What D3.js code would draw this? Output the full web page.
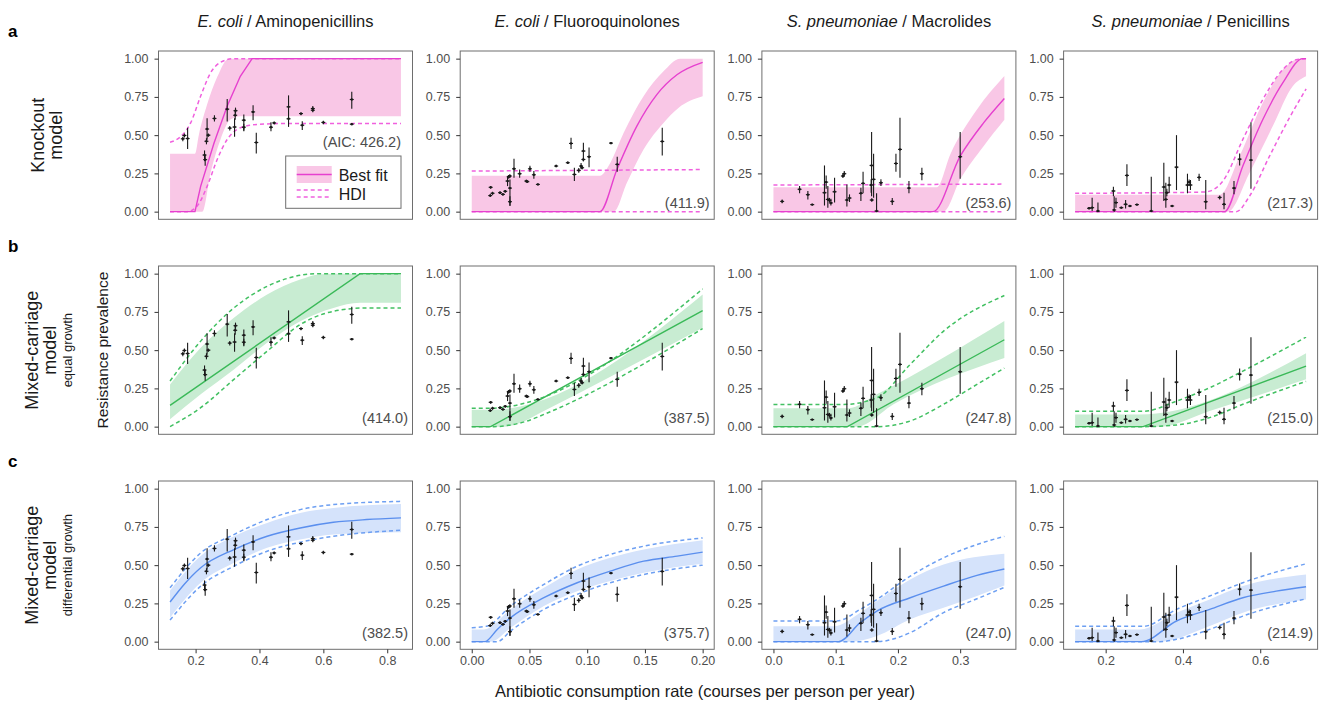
<!DOCTYPE html>
<html>
<head>
<meta charset="utf-8">
<script src="https://cdnjs.cloudflare.com/ajax/libs/d3/7.8.5/d3.min.js"></script>
<style>
body { margin: 0; background: #fff; }
text { font-family: "Liberation Sans", Arial, Helvetica, sans-serif; }
</style>
</head>
<body>
<script>

// ---- data ----

var colSpecies = ["E. coli", "E. coli", "S. pneumoniae", "S. pneumoniae"];
var colDrugs = ["Aminopenicillins", "Fluoroquinolones", "Macrolides", "Penicillins"];
var rowLetters = ["a", "b", "c"];
var rowTitles = [["Knockout", "model"], ["Mixed-carriage", "model"], ["Mixed-carriage", "model"]];
var rowSubtitles = ["", "equal growth", "differential growth"];

var aicLabels = [
	["(AIC: 426.2)", "(411.9)", "(253.6)", "(217.3)"],
	["(414.0)", "(387.5)", "(247.8)", "(215.0)"],
	["(382.5)", "(375.7)", "(247.0)", "(214.9)"]
];

var xDomains = [[0.12, 0.843], [0, 0.2], [0, 0.371], [0.121, 0.7186]];
var xTicks = [[0.2, 0.4, 0.6, 0.8], [0, 0.05, 0.1, 0.15, 0.2], [0, 0.1, 0.2, 0.3], [0.2, 0.4, 0.6]];
var xTickFormats = [".1f", ".2f", ".1f", ".1f"];
var yTicks = [0, 0.25, 0.5, 0.75, 1];

// observations: [consumption, prevalence, lower, upper]
var obsAmp = [
	[0.160,0.476,0.46,0.49],[0.165,0.498,0.485,0.51],[0.175,0.478,0.41,0.548],
	[0.228,0.37,0.33,0.40],[0.230,0.34,0.30,0.37],[0.234,0.46,0.44,0.48],
	[0.236,0.54,0.47,0.61],[0.240,0.50,0.49,0.51],[0.259,0.609,0.59,0.63],
	[0.299,0.67,0.59,0.737],[0.307,0.546,0.53,0.56],[0.322,0.553,0.49,0.61],
	[0.324,0.63,0.60,0.66],[0.325,0.66,0.64,0.68],[0.351,0.598,0.526,0.635],
	[0.351,0.552,0.53,0.575],[0.380,0.652,0.598,0.696],[0.390,0.452,0.38,0.515],
	[0.436,0.552,0.526,0.585],[0.446,0.58,0.57,0.59],[0.491,0.685,0.60,0.76],
	[0.491,0.607,0.554,0.62],[0.530,0.641,0.63,0.65],[0.534,0.565,0.533,0.591],
	[0.567,0.674,0.66,0.69],[0.567,0.663,0.65,0.675],[0.600,0.583,0.572,0.594],
	[0.689,0.733,0.672,0.783],[0.689,0.572,0.565,0.58]
];
var obsFq = [
	[0.0164,0.159,0.15,0.168],[0.016,0.105,0.095,0.115],[0.018,0.12,0.11,0.13],
	[0.0245,0.124,0.115,0.133],[0.027,0.113,0.104,0.122],[0.029,0.133,0.124,0.142],
	[0.031,0.2,0.167,0.233],[0.032,0.228,0.215,0.24],[0.033,0.233,0.22,0.245],
	[0.0331,0.154,0.037,0.21],[0.0331,0.065,0.04,0.10],[0.0366,0.28,0.222,0.345],
	[0.0415,0.248,0.222,0.276],[0.0473,0.2,0.192,0.208],[0.0481,0.196,0.188,0.204],
	[0.0504,0.28,0.26,0.30],[0.0538,0.241,0.215,0.265],[0.0573,0.178,0.172,0.184],
	[0.0731,0.298,0.29,0.306],[0.0832,0.32,0.312,0.328],[0.086,0.446,0.41,0.483],
	[0.0889,0.243,0.2,0.287],[0.0927,0.27,0.255,0.285],[0.0947,0.298,0.28,0.318],
	[0.0956,0.287,0.275,0.3],[0.0967,0.396,0.33,0.45],[0.0967,0.341,0.33,0.352],
	[0.1016,0.359,0.29,0.42],[0.1206,0.448,0.44,0.456],[0.126,0.309,0.26,0.359],
	[0.165,0.459,0.367,0.548]
];
var obsMac = [
	[0.014,0.067,0.055,0.08],[0.042,0.146,0.12,0.167],[0.0553,0.111,0.08,0.135],
	[0.0623,0.046,0.04,0.052],[0.082,0.124,0.04,0.302],[0.0847,0.193,0.15,0.237],
	[0.0874,0.08,0.026,0.167],[0.090,0.074,0.06,0.09],[0.0923,0.057,0.04,0.085],
	[0.0982,0.13,0.06,0.222],[0.1116,0.233,0.22,0.25],[0.1138,0.248,0.23,0.265],
	[0.118,0.076,0.033,0.178],[0.1222,0.089,0.063,0.113],[0.1405,0.12,0.07,0.157],
	[0.144,0.185,0.12,0.26],[0.157,0.174,0.124,0.211],[0.1577,0.302,0.1,0.52],
	[0.158,0.076,0.065,0.087],[0.1609,0.211,0.091,0.378],[0.1657,0.004,0,0.12],
	[0.1727,0.189,0.167,0.211],[0.1909,0.067,0.043,0.09],[0.1968,0.315,0.26,0.378],
	[0.2033,0.407,0.222,0.613],[0.2177,0.154,0.12,0.2],[0.2385,0.248,0.206,0.287],
	[0.3,0.359,0.215,0.52]
];
var obsPen = [
	[0.157,0.022,0.015,0.03],[0.165,0.026,0.004,0.091],[0.180,0.004,0,0.059],
	[0.220,0.135,0.1,0.163],[0.222,0.011,0,0.1],[0.2267,0.059,0.026,0.091],
	[0.2405,0.026,0.02,0.032],[0.2516,0.048,0.02,0.076],[0.255,0.237,0.167,0.309],
	[0.2628,0.037,0.03,0.044],[0.2809,0.046,0.04,0.052],[0.318,0.004,0,0.228],
	[0.3505,0.161,0.07,0.32],[0.3557,0.08,0.026,0.189],[0.3583,0.124,0.1,0.15],
	[0.3643,0.174,0.124,0.228],[0.372,0.037,0.03,0.044],[0.3833,0.291,0.141,0.5],
	[0.4117,0.174,0.12,0.248],[0.416,0.193,0.175,0.21],[0.4194,0.174,0.141,0.207],
	[0.4418,0.224,0.2,0.248],[0.459,0.065,0.015,0.207],[0.4951,0.093,0.08,0.105],
	[0.5063,0.048,0.015,0.124],[0.5321,0.154,0.113,0.2],[0.5467,0.343,0.302,0.38],
	[0.576,0.337,0.15,0.585]
];

// model curves, one list per column: [consumption, prevalence]
var knockoutFit = [
	[[0.12,0],[0.198,0],[0.216,0.167],[0.258,0.45],[0.299,0.69],[0.34,0.885],[0.377,1],[0.843,1]],
	[[0,0],[0.111,0],[0.1258,0.276],[0.143,0.559],[0.1603,0.765],[0.178,0.896],[0.2,0.976]],
	[[0,0],[0.2563,0],[0.3001,0.363],[0.3376,0.58],[0.371,0.74]],
	[[0.121,0],[0.5079,0],[0.555,0.298],[0.6067,0.602],[0.6583,0.841],[0.7101,1],[0.7186,1]]
];
var knockoutBandHi = [
	[[0.12,0.378],[0.198,0.378],[0.21,0.5],[0.236,0.7],[0.2676,0.88],[0.304,1],[0.843,1]],
	[[0,0.235],[0.111,0.235],[0.1201,0.32],[0.1316,0.515],[0.1488,0.754],[0.1661,0.917],[0.1805,1],[0.2,1]],
	[[0,0.16],[0.2627,0.16],[0.2841,0.374],[0.327,0.667],[0.371,0.886]],
	[[0.121,0.11],[0.495,0.11],[0.5467,0.363],[0.6067,0.711],[0.6669,0.95],[0.7013,1],[0.7186,1]]
];
var knockoutBandLo = [
	[[0.12,0],[0.221,0],[0.2468,0.254],[0.278,0.472],[0.309,0.602],[0.34,0.624],[0.843,0.624]],
	[[0,0],[0.123,0],[0.1344,0.189],[0.1488,0.407],[0.1661,0.58],[0.179,0.678],[0.2,0.754]],
	[[0,0],[0.2734,0],[0.3001,0.211],[0.3376,0.428],[0.371,0.6]],
	[[0.121,0],[0.5165,0],[0.5725,0.254],[0.6326,0.559],[0.6841,0.82],[0.7186,0.885]]
];
var knockoutHdiHi = [
	[[0.12,0.454],[0.153,0.49],[0.1845,0.58],[0.2156,0.754],[0.2468,0.907],[0.278,0.976],[0.3196,1],[0.843,1]],
	[[0,0.265],[0.2,0.275]],
	[[0,0.174],[0.371,0.18]],
	[[0.121,0.12],[0.452,0.128],[0.4691,0.134],[0.5035,0.2],[0.555,0.472],[0.6067,0.733],[0.6583,0.928],[0.6927,0.993],[0.7186,1]]
];
var knockoutHdiLo = [
	[[0.12,0],[0.174,0],[0.205,0.037],[0.2364,0.167],[0.2676,0.341],[0.299,0.472],[0.34,0.548],[0.3924,0.57],[0.486,0.576],[0.843,0.576]],
	[[0,0],[0.2,0]],
	[[0,0],[0.371,0]],
	[[0.121,0],[0.538,0],[0.5725,0.102],[0.6241,0.363],[0.6755,0.613],[0.7186,0.802]]
];

var equalFit = [
	[[0.12,0.139],[0.715,1],[0.843,1]],
	[[0,0],[0.0164,0],[0.2,0.759]],
	[[0,0],[0.119,0],[0.371,0.568]],
	[[0.121,0],[0.297,0],[0.7186,0.396]]
];
var equalBandHi = [
	[[0.12,0.276],[0.216,0.515],[0.32,0.711],[0.424,0.863],[0.5275,0.961],[0.58,0.993],[0.632,1],[0.843,1]],
	[[0,0.11],[0.0164,0.11],[0.2,0.863]],
	[[0,0.12],[0.1206,0.12],[0.1662,0.211],[0.371,0.69]],
	[[0.121,0.08],[0.2885,0.08],[0.7186,0.48]]
];
var equalBandLo = [
	[[0.12,0.048],[0.216,0.211],[0.32,0.374],[0.424,0.548],[0.5275,0.689],[0.6316,0.776],[0.715,0.809],[0.843,0.809]],
	[[0,0],[0.0279,0],[0.0423,0.026],[0.0625,0.102],[0.2,0.646]],
	[[0,0],[0.134,0],[0.193,0.146],[0.371,0.448]],
	[[0.121,0],[0.3401,0],[0.4691,0.102],[0.7186,0.309]]
];
var equalHdiHi = [
	[[0.12,0.298],[0.216,0.559],[0.32,0.776],[0.424,0.917],[0.5275,0.989],[0.58,1],[0.843,1]],
	[[0,0.12],[0.0135,0.12],[0.2,0.9]],
	[[0,0.145],[0.1126,0.145],[0.1662,0.189],[0.2198,0.407],[0.2733,0.624],[0.371,0.857]],
	[[0.121,0.1],[0.297,0.1],[0.3833,0.167],[0.4691,0.254],[0.555,0.363],[0.7186,0.585]]
];
var equalHdiLo = [
	[[0.12,0],[0.216,0.124],[0.32,0.309],[0.424,0.493],[0.5275,0.667],[0.6316,0.754],[0.7355,0.776],[0.843,0.776]],
	[[0,0],[0.0193,0],[0.0337,0.011],[0.0481,0.037],[0.0625,0.08],[0.2,0.641]],
	[[0,0],[0.1662,0],[0.2198,0.037],[0.2733,0.146],[0.327,0.276],[0.371,0.383]],
	[[0.121,0],[0.297,0],[0.3833,0.011],[0.4691,0.059],[0.555,0.146],[0.7186,0.296]]
];

var diffFit = [
	[[0.12,0.259],[0.164,0.374],[0.216,0.483],[0.32,0.602],[0.424,0.689],[0.5275,0.743],[0.6316,0.78],[0.7355,0.798],[0.843,0.809]],
	[[0,0],[0.0112,0],[0.0221,0.08],[0.0337,0.157],[0.0625,0.287],[0.0913,0.385],[0.12,0.461],[0.149,0.526],[0.178,0.559],[0.2,0.585]],
	[[0,0],[0.1046,0],[0.1394,0.124],[0.1662,0.2],[0.2198,0.287],[0.2733,0.363],[0.327,0.433],[0.371,0.475]],
	[[0.121,0],[0.2928,0],[0.3833,0.135],[0.4691,0.211],[0.555,0.287],[0.6413,0.33],[0.7186,0.359]]
];
var diffBandHi = [
	[[0.12,0.335],[0.216,0.56],[0.32,0.689],[0.424,0.776],[0.5275,0.841],[0.6316,0.874],[0.843,0.9]],
	[[0,0.08],[0.0107,0.08],[0.0337,0.211],[0.0625,0.352],[0.0913,0.472],[0.12,0.548],[0.149,0.602],[0.2,0.663]],
	[[0,0.1],[0.0966,0.1],[0.1394,0.189],[0.1662,0.265],[0.2198,0.407],[0.2733,0.504],[0.371,0.575]],
	[[0.121,0.08],[0.2885,0.08],[0.3833,0.189],[0.4691,0.276],[0.555,0.363],[0.7186,0.439]]
];
var diffBandLo = [
	[[0.12,0.157],[0.216,0.385],[0.32,0.515],[0.424,0.613],[0.5275,0.667],[0.6316,0.7],[0.843,0.715]],
	[[0,0],[0.0164,0],[0.0337,0.091],[0.0625,0.233],[0.0913,0.33],[0.12,0.396],[0.149,0.45],[0.2,0.509]],
	[[0,0],[0.1234,0],[0.1662,0.037],[0.2198,0.146],[0.2733,0.222],[0.327,0.298],[0.371,0.367]],
	[[0.121,0],[0.3401,0],[0.4691,0.102],[0.555,0.189],[0.7186,0.276]]
];
var diffHdiHi = [
	[[0.12,0.352],[0.216,0.58],[0.32,0.7],[0.424,0.798],[0.5275,0.863],[0.6316,0.896],[0.843,0.917]],
	[[0,0.091],[0.0135,0.102],[0.0337,0.233],[0.0625,0.374],[0.0913,0.493],[0.12,0.57],[0.149,0.624],[0.2,0.678]],
	[[0,0.135],[0.1019,0.135],[0.1394,0.211],[0.1662,0.276],[0.2198,0.428],[0.2733,0.548],[0.327,0.635],[0.371,0.688]],
	[[0.121,0.1],[0.297,0.1],[0.3833,0.211],[0.4691,0.298],[0.555,0.385],[0.7186,0.509]]
];
var diffHdiLo = [
	[[0.12,0.141],[0.216,0.363],[0.32,0.493],[0.424,0.591],[0.5275,0.65],[0.6316,0.689],[0.843,0.728]],
	[[0,0],[0.0221,0],[0.0337,0.07],[0.0625,0.211],[0.0913,0.309],[0.12,0.385],[0.149,0.439],[0.2,0.5]],
	[[0,0],[0.1662,0],[0.2198,0.059],[0.2733,0.19],[0.327,0.28],[0.371,0.355]],
	[[0.121,0],[0.3401,0],[0.3833,0.015],[0.4691,0.08],[0.555,0.167],[0.7186,0.28]]
];

// ---- layout ----

var width = 1337, height = 704;
var panel = {left: 158.5, top: 51, w: 254, h: 168.3, dx: 301.7, dy: 215};

var rowColors = [
	{line: "#e640cf", fill: "#f9c7e6", dash: "#f060de"},
	{line: "#3ab958", fill: "#c8ecd2", dash: "#42c062"},
	{line: "#5b8fee", fill: "#d5e3fb", dash: "#6d9ff2"}
];

var observations = [obsAmp, obsFq, obsMac, obsPen];
var fits = [knockoutFit, equalFit, diffFit];
var bandHis = [knockoutBandHi, equalBandHi, diffBandHi];
var bandLos = [knockoutBandLo, equalBandLo, diffBandLo];
var hdiHis = [knockoutHdiHi, equalHdiHi, diffHdiHi];
var hdiLos = [knockoutHdiLo, equalHdiLo, diffHdiLo];

var canvas = d3.select("body")
	.append("svg")
	.attr("width", width)
	.attr("height", height);

// column titles
colSpecies.forEach(function(sp, c){
	var t = canvas.append("text")
		.attr("x", panel.left + c * panel.dx + panel.w / 2)
		.attr("y", 27)
		.attr("text-anchor", "middle")
		.style("font-size", "16.5px")
		.attr("fill", "#1a1a1a");
	t.append("tspan").style("font-style", "italic").text(sp);
	t.append("tspan").text(" / " + colDrugs[c]);
});

// row labels
rowLetters.forEach(function(letter, r){
	var top = panel.top + r * panel.dy;
	var mid = top + panel.h / 2;
	canvas.append("text")
		.attr("x", 8).attr("y", top - 14)
		.style("font-size", "17px").style("font-weight", "bold")
		.text(letter);

	var lines = rowTitles[r];
	var baseX = r === 0 ? 44 : 38;
	lines.forEach(function(l, i){
		canvas.append("text")
			.attr("transform", "translate(" + (baseX + i * 18) + "," + mid + ") rotate(-90)")
			.attr("text-anchor", "middle")
			.style("font-size", "18px")
			.attr("fill", "#1a1a1a")
			.text(l);
	});
	if (rowSubtitles[r]) {
		canvas.append("text")
			.attr("transform", "translate(" + (baseX + 34) + "," + mid + ") rotate(-90)")
			.attr("text-anchor", "middle")
			.style("font-size", "13px")
			.attr("fill", "#1a1a1a")
			.text(rowSubtitles[r]);
	}
});

// shared axis titles
canvas.append("text")
	.attr("transform", "translate(108," + (panel.top + panel.dy + panel.h / 2) + ") rotate(-90)")
	.attr("text-anchor", "middle")
	.style("font-size", "15.5px")
	.attr("fill", "#1a1a1a")
	.text("Resistance prevalence");

canvas.append("text")
	.attr("x", 705).attr("y", 697)
	.attr("text-anchor", "middle")
	.style("font-size", "16.5px")
	.attr("fill", "#1a1a1a")
	.text("Antibiotic consumption rate (courses per person per year)");

// panels
for (var r = 0; r < 3; r++) {
	for (var c = 0; c < 4; c++) {
		drawPanel(r, c);
	}
}

function drawPanel(r, c){
	var col = rowColors[r];
	var g = canvas.append("g")
		.attr("transform", "translate(" + (panel.left + c * panel.dx) + "," + (panel.top + r * panel.dy) + ")");

	var dom = xDomains[c], pad = (dom[1] - dom[0]) * 0.05;
	var xScale = d3.scaleLinear().domain([dom[0] - pad, dom[1] + pad]).range([0, panel.w]);
	var yScale = d3.scaleLinear().domain([-0.05, 1.05]).range([panel.h, 0]);

	// smooth curves for bands / HDI, straight pieces for the threshold fits
	var smooth = d3.line()
		.curve(d3.curveMonotoneX)
		.x(function(d){ return xScale(d[0]); })
		.y(function(d){ return yScale(d[1]); });
	var straight = d3.line()
		.x(function(d){ return xScale(d[0]); })
		.y(function(d){ return yScale(d[1]); });

	// credible band: upper edge forward, lower edge back
	var hiPath = smooth(bandHis[r][c]);
	var loPath = smooth(bandLos[r][c].slice().reverse());
	g.append("path")
		.attr("d", hiPath + "L" + loPath.substring(1) + "Z")
		.attr("fill", col.fill);

	// HDI dashed
	[hdiHis[r][c], hdiLos[r][c]].forEach(function(d){
		g.append("path")
			.attr("d", smooth(d))
			.attr("fill", "none")
			.attr("stroke", col.dash)
			.attr("stroke-width", 1.5)
			.attr("stroke-dasharray", "4,3");
	});

	// best fit
	var useSmooth = r === 2 || (r === 0 && c > 0);
	g.append("path")
		.attr("d", (useSmooth ? smooth : straight)(fits[r][c]))
		.attr("fill", "none")
		.attr("stroke", col.line)
		.attr("stroke-width", 1.4);

	// observations
	var obs = g.selectAll(".obs")
		.data(observations[c])
		.enter()
		.append("g")
		.attr("class", "obs");
	obs.append("line")
		.attr("x1", function(d){ return xScale(d[0]); })
		.attr("x2", function(d){ return xScale(d[0]); })
		.attr("y1", function(d){ return yScale(d[2]); })
		.attr("y2", function(d){ return yScale(d[3]); })
		.attr("stroke", "#1a1a1a")
		.attr("stroke-width", 1.1);
	obs.append("line")
		.attr("x1", function(d){ return xScale(d[0]) - 2; })
		.attr("x2", function(d){ return xScale(d[0]) + 2; })
		.attr("y1", function(d){ return yScale(d[1]); })
		.attr("y2", function(d){ return yScale(d[1]); })
		.attr("stroke", "#1a1a1a")
		.attr("stroke-width", 1.1);
	obs.append("circle")
		.attr("cx", function(d){ return xScale(d[0]); })
		.attr("cy", function(d){ return yScale(d[1]); })
		.attr("r", 1.2)
		.attr("fill", "#1a1a1a");

	// border
	g.append("rect")
		.attr("width", panel.w).attr("height", panel.h)
		.attr("fill", "none")
		.attr("stroke", "#6e6e6e")
		.attr("stroke-width", 1);

	// y axis
	var ya = g.append("g")
		.call(d3.axisLeft(yScale).tickValues(yTicks).tickFormat(d3.format(".2f")).tickSize(4).tickPadding(6));
	styleAxis(ya);

	// x axis only on bottom row
	if (r === 2) {
		var xa = g.append("g")
			.attr("transform", "translate(0," + panel.h + ")")
			.call(d3.axisBottom(xScale).tickValues(xTicks[c]).tickFormat(d3.format(xTickFormats[c])).tickSize(4).tickPadding(3));
		styleAxis(xa);
	}

	// AIC
	if (r === 0 && c === 0) {
		g.append("text")
			.attr("x", 242.5).attr("y", 95.5)
			.attr("text-anchor", "end")
			.style("font-size", "14.5px")
			.attr("fill", "#4d4d4d")
			.text(aicLabels[r][c]);
		drawLegend(g, col);
	} else {
		g.append("text")
			.attr("x", panel.w - 4.5).attr("y", panel.h - 11)
			.attr("text-anchor", "end")
			.style("font-size", "14.5px")
			.attr("fill", "#4d4d4d")
			.text(aicLabels[r][c]);
	}
}

function styleAxis(a){
	a.select(".domain").remove();
	a.selectAll(".tick line").attr("stroke", "#333").attr("stroke-width", 1);
	a.selectAll(".tick text")
		.attr("fill", "#4d4d4d")
		.style("font-size", "12.5px")
		.style("font-family", "'Liberation Sans', Arial, sans-serif");
}

function drawLegend(g, col){
	var lg = g.append("g").attr("transform", "translate(127.2,105)");
	lg.append("rect")
		.attr("width", 115.3).attr("height", 52.3)
		.attr("fill", "#fff")
		.attr("stroke", "#6e6e6e");
	lg.append("rect")
		.attr("x", 11).attr("y", 10).attr("width", 35).attr("height", 17)
		.attr("fill", col.fill);
	lg.append("line")
		.attr("x1", 11).attr("x2", 46).attr("y1", 18.5).attr("y2", 18.5)
		.attr("stroke", col.line).attr("stroke-width", 1.4);
	[34, 41].forEach(function(yy){
		lg.append("line")
			.attr("x1", 11).attr("x2", 46).attr("y1", yy).attr("y2", yy)
			.attr("stroke", col.dash).attr("stroke-width", 1.5)
			.attr("stroke-dasharray", "4,3");
	});
	lg.append("text").attr("x", 53).attr("y", 24.5)
		.style("font-size", "16px").attr("fill", "#1a1a1a").text("Best fit");
	lg.append("text").attr("x", 53).attr("y", 43.5)
		.style("font-size", "16px").attr("fill", "#1a1a1a").text("HDI");
}
</script>
</body>
</html>
